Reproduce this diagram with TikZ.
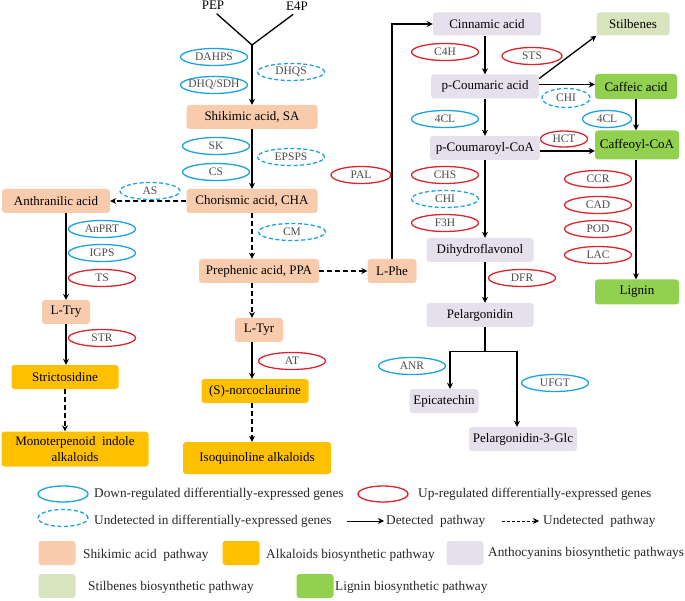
\documentclass[tikz,border=0pt]{standalone}
\usepackage{fontspec}
\setmainfont{Liberation Serif}
\usetikzlibrary{arrows.meta, shapes.geometric}
\definecolor{blu}{HTML}{1AA3E0}
\definecolor{rd}{HTML}{D9262C}
\definecolor{shikc}{HTML}{F8CBAD}
\definecolor{alkc}{HTML}{FFC000}
\definecolor{anthc}{HTML}{E6E0EC}
\definecolor{stilc}{HTML}{D7E4BD}
\definecolor{lignc}{HTML}{92D050}

\begin{document}
\begin{tikzpicture}[x=1pt, y=-1pt,
    enz/.style={draw, ellipse, line width=1.3pt, minimum width=67pt, minimum height=17pt,
        inner xsep=-6pt, inner ysep=0pt, text=black!70, font=\fontsize{11.5}{12}\selectfont},
    dn/.style={enz, draw=blu},
    upr/.style={enz, draw=rd},
    und/.style={enz, draw=blu, dash pattern=on 4pt off 2.5pt},
    pbox/.style={rounded corners=3pt, minimum height=24pt, inner sep=2pt, font=\fontsize{13}{16}\selectfont},
    shik/.style={pbox, fill=shikc},
    alka/.style={pbox, fill=alkc},
    anth/.style={pbox, fill=anthc},
    stil/.style={pbox, fill=stilc},
    lign/.style={pbox, fill=lignc},
    det/.style={-{Stealth[length=6pt, width=6pt]}, line width=1.3pt},
    undet/.style={det, dash pattern=on 5pt off 3pt},
    lgtxt/.style={anchor=west, inner sep=0pt, text=black!85, font=\fontsize{13.3}{15}\selectfont}]
    \useasboundingbox (0,0) rectangle (685,601);

    \node[font=\fontsize{13}{15}\selectfont, inner sep=1pt] (pep) at (213,5) {PEP};
    \node[font=\fontsize{13}{15}\selectfont, inner sep=1pt] (e4p) at (297,6) {E4P};
    \coordinate (jn) at (252,45);
    \node[dn] (dahps) at (214,57) {DAHPS};
    \node[dn] (dhq) at (214,85) {DHQ/SDH};
    \node[und] (dhqs) at (291,72) {DHQS};
    \node[shik, minimum width=131pt] (sa) at (252,117) {Shikimic acid, SA};
    \node[dn] (sk) at (216,146) {SK};
    \node[dn] (cs) at (216,172) {CS};
    \node[und] (epsps) at (291,157) {EPSPS};
    \node[shik, minimum width=131pt] (cha) at (252,201) {Chorismic acid, CHA};
    \node[shik, minimum width=108pt] (anthr) at (56,201) {Anthranilic acid};
    \node[und, minimum width=60pt] (as) at (150,191) {AS};
    \node[dn] (anprt) at (102,229) {AnPRT};
    \node[dn] (igps) at (102,253) {IGPS};
    \node[upr] (ts) at (102,278) {TS};
    \node[shik, minimum width=48pt] (ltry) at (66,312) {L-Try};
    \node[upr] (str) at (102,338) {STR};
    \node[alka, minimum width=107pt] (strc) at (65,377) {Strictosidine};
    \node[alka, minimum width=147pt, minimum height=35pt, align=center] (mia) at (75,449) {Monoterpenoid\ \ indole\\alkaloids};
    \node[und] (cm) at (292,232) {CM};
    \node[shik, minimum width=120pt] (ppa) at (259,271) {Prephenic acid, PPA};
    \node[shik, minimum width=48pt] (ltyr) at (259,330) {L-Tyr};
    \node[upr] (atx) at (292,361) {AT};
    \node[alka, minimum width=107pt] (nor) at (255,391) {(S)-norcoclaurine};
    \node[alka, minimum width=148pt, minimum height=32pt] (iso) at (257,458) {Isoquinoline alkaloids};
    \node[shik, minimum width=49pt] (lphe) at (392,271) {L-Phe};
    \node[upr, minimum width=60pt] (pal) at (361,175) {PAL};

    \node[anth, minimum width=108pt, minimum height=23pt] (cinn) at (487,24) {Cinnamic acid};
    \node[upr] (c4h) at (445,52) {C4H};
    \node[anth, minimum width=108pt] (pca) at (485,86.5) {p-Coumaric acid};
    \node[upr, minimum width=60pt] (sts) at (532,56) {STS};
    \node[stil, minimum width=73pt, minimum height=23pt] (stb) at (633,24) {Stilbenes};
    \node[lign, minimum width=82pt, minimum height=25pt] (caf) at (636,86.5) {Caffeic acid};
    \node[und, minimum width=48pt, minimum height=19pt] (chia) at (566,98) {CHI};
    \node[dn, minimum width=49pt] (fcla) at (607,119) {4CL};
    \node[lign, minimum width=84pt, minimum height=29pt] (cafc) at (637,145) {Caffeoyl-CoA};
    \node[upr, minimum width=47pt, minimum height=16pt] (hct) at (564,139) {HCT};
    \node[dn] (fclb) at (445,119) {4CL};
    \node[anth, minimum width=110pt] (pcoa) at (485,148) {p-Coumaroyl-CoA};
    \node[upr] (chs) at (445,175) {CHS};
    \node[und] (chib) at (445,199) {CHI};
    \node[upr] (f3h) at (445,223) {F3H};
    \node[anth, minimum width=107pt] (dhf) at (480,250) {Dihydroflavonol};
    \node[upr] (dfr) at (522,278) {DFR};
    \node[anth, minimum width=107pt] (pel) at (480,315) {Pelargonidin};
    \node[dn] (anr) at (412,366) {ANR};
    \node[dn] (ufgt) at (555,383) {UFGT};
    \node[anth, minimum width=69pt] (epi) at (444,401) {Epicatechin};
    \node[anth, minimum width=108pt] (pgl) at (523,439) {Pelargonidin-3-Glc};
    \node[upr] (ccr) at (598,179) {CCR};
    \node[upr] (cad) at (598,205) {CAD};
    \node[upr] (pod) at (598,229) {POD};
    \node[upr] (lac) at (598,255) {LAC};
    \node[lign, minimum width=84pt, minimum height=25pt] (lig) at (637,292) {Lignin};

    \draw[line width=1.3pt, line cap=round, shorten <=5pt] (pep.south) -- (jn);
    \draw[line width=1.3pt, line cap=round, shorten <=5pt] (e4p.south) -- (jn);
    \draw[det] (jn) -- (sa);
    \draw[det] (sa) -- (cha);
    \draw[undet] (cha) -- (anthr);
    \draw[undet] (cha) -- (cha |- ppa.north);
    \draw[det] (anthr.south -| ltry) -- (ltry);
    \draw[det] (ltry) -- (ltry |- strc.north);
    \draw[undet] (strc) -- (strc |- mia.north);
    \draw[undet] (ppa.south -| cha) -- (ltyr.north -| cha);
    \draw[det] (ltyr.south -| cha) -- (nor.north -| cha);
    \draw[undet] (nor.south -| cha) -- (iso.north -| cha);
    \draw[undet] (ppa) -- (lphe);
    \draw[det] (lphe) |- (cinn);
    \draw[det] (cinn.south -| pca) -- (pca);
    \draw[det] (pca) -- (pcoa);
    \draw[det] ([yshift=8pt]pca.east) -- (stb.south west);
    \draw[det] ([yshift=2pt]pca.east) -- ([yshift=2pt]caf.west);
    \draw[det] ([yshift=-3pt]pcoa.east) -- ([yshift=-3pt]pcoa.east -| cafc.west);
    \draw[det] (caf) -- (caf |- cafc.north);
    \draw[det] (cafc.south -| caf) -- (lig.north -| caf);
    \draw[det] (pcoa) -- (pcoa |- dhf.north);
    \draw[det] (dhf.south -| pcoa) -- (pel.north -| pcoa);
    \draw[line width=1.3pt] (pel.south -| pcoa) -- ++(0,24) coordinate (brc);
    \draw[det] (brc) -| ([xshift=6pt]epi.north);
    \draw[det] (brc) -| ([xshift=-6pt]pgl.north);

    \node[dn, minimum width=50pt, minimum height=16pt] (lgdn) at (63,494) {};
    \node[lgtxt] (lgdnt) at (94,494) {Down-regulated differentially-expressed genes};
    \node[upr, minimum width=50pt, minimum height=16pt] (lgup) at (383,494) {};
    \node[lgtxt] (lgupt) at (418,494) {Up-regulated differentially-expressed genes};
    \node[und, minimum width=50pt, minimum height=17pt] (lgun) at (63,518) {};
    \node[lgtxt] (lgunt) at (94,521) {Undetected in differentially-expressed genes};
    \coordinate (lgsa) at (347,521);
    \node[lgtxt] (lgdt) at (386,521) {Detected\ \ pathway};
    \draw[det, line width=1pt, shorten >=2pt] (lgsa) -- (lgdt.west);
    \coordinate (lgsb) at (502,521);
    \node[lgtxt] (lgut) at (543,521) {Undetected\ \ pathway};
    \draw[undet, line width=1pt, dash pattern=on 3pt off 2pt, shorten >=4pt] (lgsb) -- (lgut.west);
    \node[shik, minimum width=37pt] (lgsh) at (57,553) {};
    \node[lgtxt] (lgsht) at (83,555) {Shikimic acid\ \ pathway};
    \node[alka, minimum width=37pt] (lgal) at (241,553) {};
    \node[lgtxt] (lgalt) at (266,555) {Alkaloids biosynthetic pathway};
    \node[anth, minimum width=37pt] (lgan) at (465,553) {};
    \node[lgtxt] (lgant) at (488,553) {Anthocyanins biosynthetic pathways};
    \node[stil, minimum width=37pt] (lgst) at (57,586) {};
    \node[lgtxt] (lgstt) at (88,587) {Stilbenes biosynthetic pathway};
    \node[lign, minimum width=37pt] (lgli) at (315,586) {};
    \node[lgtxt] (lglit) at (335,587) {Lignin biosynthetic pathway};
\end{tikzpicture}
\end{document}
